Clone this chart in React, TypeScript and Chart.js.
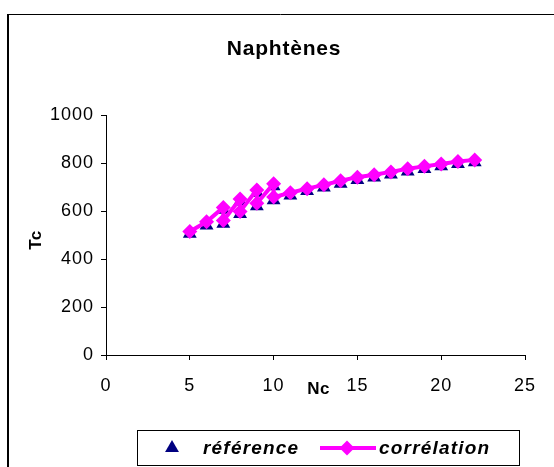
import React, { useEffect, useRef } from "react";
import { Chart, registerables } from "chart.js";

Chart.register(...registerables);

// ---- data ----
const NC = [5, 6, 7, 7, 8, 8, 9, 9, 10, 10, 11, 12, 13, 14, 15, 16, 17, 18, 19, 20, 21, 22];
const TC_REFERENCE = [505, 540, 605, 547, 640, 587, 676, 620, 703, 645, 665, 683, 698, 714, 729, 740, 752, 765, 775, 786, 796, 803];
const TC_CORRELATION = [515, 555, 615, 560, 650, 598, 688, 632, 714, 658, 676, 693, 709, 726, 741, 751, 763, 776, 786, 796, 806, 813];
const X_TICKS = [0, 5, 10, 15, 20, 25];
const Y_TICKS = [0, 200, 400, 600, 800, 1000];
const TITLE = "Naphtènes";
const X_TITLE = "Nc";
const Y_TITLE = "Tc";
const SERIES_LABELS = ["référence", "corrélation"];

const REF_COLOR = "#000080";
const COR_COLOR = "#FF00FF";
const FONT = "Arial, 'Liberation Sans', sans-serif";

const W = 554;
const H = 467;

const decor = {
  id: "decor",
  beforeDraw(chart: any) {
    const ctx = chart.ctx;
    ctx.fillStyle = "#ffffff";
    ctx.fillRect(0, 0, W, H);
    try {
      ctx.letterSpacing = "1px";
    } catch (e) {}
  },
  afterDraw(chart: any) {
    const ctx = chart.ctx;
    const area = chart.chartArea;
    ctx.save();
    // outer frame (left + top only; it continues past the window)
    ctx.strokeStyle = "#000";
    ctx.lineWidth = 2;
    ctx.beginPath();
    ctx.moveTo(8, H);
    ctx.lineTo(8, 14.5);
    ctx.stroke();
    ctx.lineWidth = 1;
    ctx.beginPath();
    ctx.moveTo(7, 14.5);
    ctx.lineTo(W, 14.5);
    ctx.stroke();

    // title
    ctx.fillStyle = "#000";
    try { ctx.letterSpacing = "0.8px"; } catch (e) {}
    ctx.font = `bold 21px ${FONT}`;
    ctx.textAlign = "center";
    ctx.textBaseline = "alphabetic";
    ctx.fillText(TITLE, 284, 55);

    // y title
    try { ctx.letterSpacing = "0.5px"; } catch (e) {}
    ctx.font = `bold 17px ${FONT}`;
    ctx.save();
    ctx.translate(36, 240);
    ctx.rotate(-Math.PI / 2);
    ctx.textAlign = "center";
    ctx.textBaseline = "middle";
    ctx.fillText(Y_TITLE, 0, 0);
    ctx.restore();

    // x title (sits on the tick-label line, as in the original)
    ctx.font = `bold 17px ${FONT}`;
    ctx.textAlign = "center";
    ctx.textBaseline = "middle";
    ctx.fillText(X_TITLE, (area.left + area.right) / 2 + 3, 389);

    // legend
    const lx = 137.5, ly = 430.5, lw = 382, lh = 35;
    ctx.strokeStyle = "#000";
    ctx.lineWidth = 1;
    ctx.strokeRect(lx, ly, lw, lh);
    const cy = 448;
    // triangle marker
    const tr = 8;
    ctx.fillStyle = REF_COLOR;
    ctx.beginPath();
    ctx.moveTo(172, cy - tr);
    ctx.lineTo(172 + 0.866 * tr, cy + 0.5 * tr);
    ctx.lineTo(172 - 0.866 * tr, cy + 0.5 * tr);
    ctx.closePath();
    ctx.fill();
    // line + diamond
    ctx.strokeStyle = COR_COLOR;
    ctx.lineWidth = 4;
    ctx.beginPath();
    ctx.moveTo(320, cy);
    ctx.lineTo(376, cy);
    ctx.stroke();
    const dr = 7.5;
    ctx.fillStyle = COR_COLOR;
    ctx.beginPath();
    ctx.moveTo(347 - dr, cy);
    ctx.lineTo(347, cy - dr);
    ctx.lineTo(347 + dr, cy);
    ctx.lineTo(347, cy + dr);
    ctx.closePath();
    ctx.fill();
    // labels
    try { ctx.letterSpacing = "1.2px"; } catch (e) {}
    ctx.fillStyle = "#000";
    ctx.font = `italic bold 19px ${FONT}`;
    ctx.textAlign = "left";
    ctx.textBaseline = "middle";
    ctx.fillText(SERIES_LABELS[0], 203, cy + 1);
    ctx.fillText(SERIES_LABELS[1], 379, cy + 1);
    ctx.restore();
  },
};

export default function App() {
  const ref = useRef<HTMLCanvasElement | null>(null);

  useEffect(() => {
    if (!ref.current) return;
    const chart = new Chart(ref.current, {
      type: "scatter",
      data: {
        datasets: [
          {
            label: SERIES_LABELS[0],
            data: NC.map((x, i) => ({ x, y: TC_REFERENCE[i] })),
            pointStyle: "triangle",
            pointRadius: 8,
            pointHoverRadius: 8,
            backgroundColor: REF_COLOR,
            borderColor: REF_COLOR,
            pointBorderWidth: 0,
            showLine: false,
            order: 2,
          },
          {
            label: SERIES_LABELS[1],
            data: NC.map((x, i) => ({ x, y: TC_CORRELATION[i] })),
            pointStyle: "rectRot",
            pointRadius: 7.5,
            pointHoverRadius: 7.5,
            backgroundColor: COR_COLOR,
            borderColor: COR_COLOR,
            borderWidth: 4,
            pointBorderWidth: 0,
            showLine: true,
            tension: 0,
            order: 1,
          },
        ],
      } as any,
      options: {
        animation: false,
        responsive: false,
        devicePixelRatio: 1,
        layout: { padding: { top: 115, right: 29, left: 0, bottom: 0 } },
        plugins: {
          legend: { display: false },
          title: { display: false },
          tooltip: { enabled: false },
        },
        events: [],
        scales: {
          x: {
            type: "linear",
            min: 0,
            max: 25,
            afterFit: (s: any) => {
              s.height = 112;
            },
            afterBuildTicks: (s: any) => {
              s.ticks = X_TICKS.map((v) => ({ value: v }));
            },
            ticks: {
              color: "#000",
              font: { family: FONT, size: 18 },
              padding: 15,
              maxRotation: 0,
              callback: (v: any) => String(v),
            },
            grid: {
              drawOnChartArea: false,
              drawTicks: true,
              tickLength: 5,
              color: "#000",
            },
            border: { display: true, color: "#000", width: 1 },
          },
          y: {
            type: "linear",
            min: 0,
            max: 1000,
            afterFit: (s: any) => {
              s.width = 106;
            },
            afterBuildTicks: (s: any) => {
              s.ticks = Y_TICKS.map((v) => ({ value: v }));
            },
            ticks: {
              color: "#000",
              font: { family: FONT, size: 18 },
              padding: 7,
              callback: (v: any) => String(v),
            },
            grid: {
              drawOnChartArea: false,
              drawTicks: true,
              tickLength: 5,
              color: "#000",
            },
            border: { display: true, color: "#000", width: 1 },
          },
        },
      } as any,
      plugins: [decor],
    });
    return () => chart.destroy();
  }, []);

  return (
    <div style={{ position: "absolute", left: 0, top: 0, width: W, height: H, background: "#fff" }}>
      <canvas ref={ref} width={W} height={H} style={{ display: "block", width: W, height: H }} />
    </div>
  );
}
